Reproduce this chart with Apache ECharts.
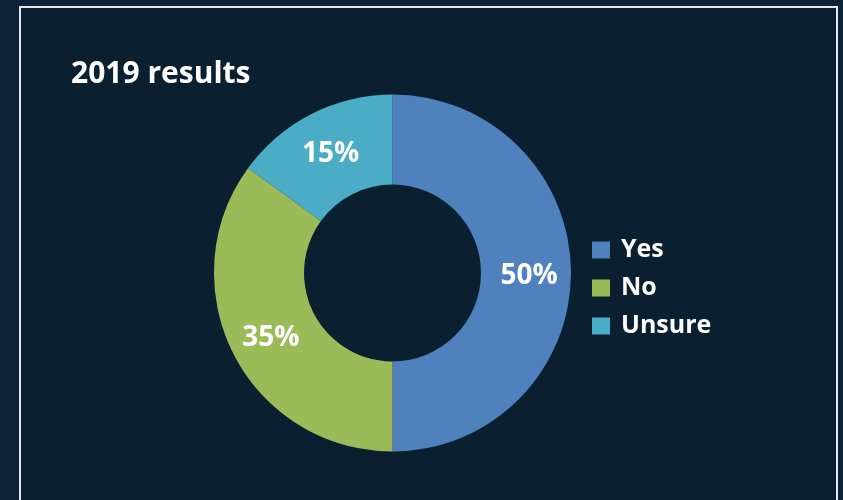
<!DOCTYPE html>
<html>
<head>
<meta charset="utf-8">
<style>
  html, body { margin: 0; padding: 0; background: #0b2237; }
  #chart { width: 843px; height: 500px; }
</style>
<script src="https://cdn.jsdelivr.net/npm/echarts@6/dist/echarts.min.js"></script>
</head>
<body>
<div id="chart"></div>
<script>
// Survey answers and their shares (percent)
const categories = ['Yes', 'No', 'Unsure'];
const shares = [50, 35, 15];
const sliceColors = ['#4f81bd', '#9bbb59', '#4bacc6'];
const titleText = '2019 results';

const FONT = '"Open Sans", "Noto Sans", sans-serif';

const chart = echarts.init(document.getElementById('chart'), null, { renderer: 'canvas' });

chart.setOption({
  backgroundColor: '#0b2237',
  animation: false,
  graphic: [
    {
      type: 'rect',
      z: -10,
      shape: { x: 20, y: 7, width: 817, height: 520 },
      style: { fill: '#0a1f30', stroke: '#e4e8ec', lineWidth: 2 }
    }
  ],
  title: {
    text: titleText,
    left: 66,
    top: 54,
    textStyle: { color: '#ffffff', fontFamily: FONT, fontWeight: 'bold', fontSize: 30 }
  },
  legend: {
    orient: 'vertical',
    left: 587,
    top: 232,
    itemWidth: 18,
    itemHeight: 17,
    itemGap: 12,
    icon: 'rect',
    data: categories,
    textStyle: {
      color: '#ffffff',
      fontFamily: FONT,
      fontWeight: 'bold',
      fontSize: 25,
      lineHeight: 26,
      padding: [0, 0, 0, 6]
    }
  },
  series: [
    {
      type: 'pie',
      center: [392.5, 273],
      radius: [88.5, 178.5],
      startAngle: 90,
      clockwise: true,
      color: sliceColors,
      itemStyle: { borderWidth: 0 },
      label: {
        show: true,
        position: 'inside',
        formatter: '{c}%',
        offset: [0, 3],
        color: '#ffffff',
        fontFamily: FONT,
        fontWeight: 'bold',
        fontSize: 28
      },
      labelLine: { show: false },
      emphasis: { disabled: true },
      data: categories.map((name, i) => ({ name, value: shares[i] }))
    }
  ]
});
</script>
</body>
</html>
